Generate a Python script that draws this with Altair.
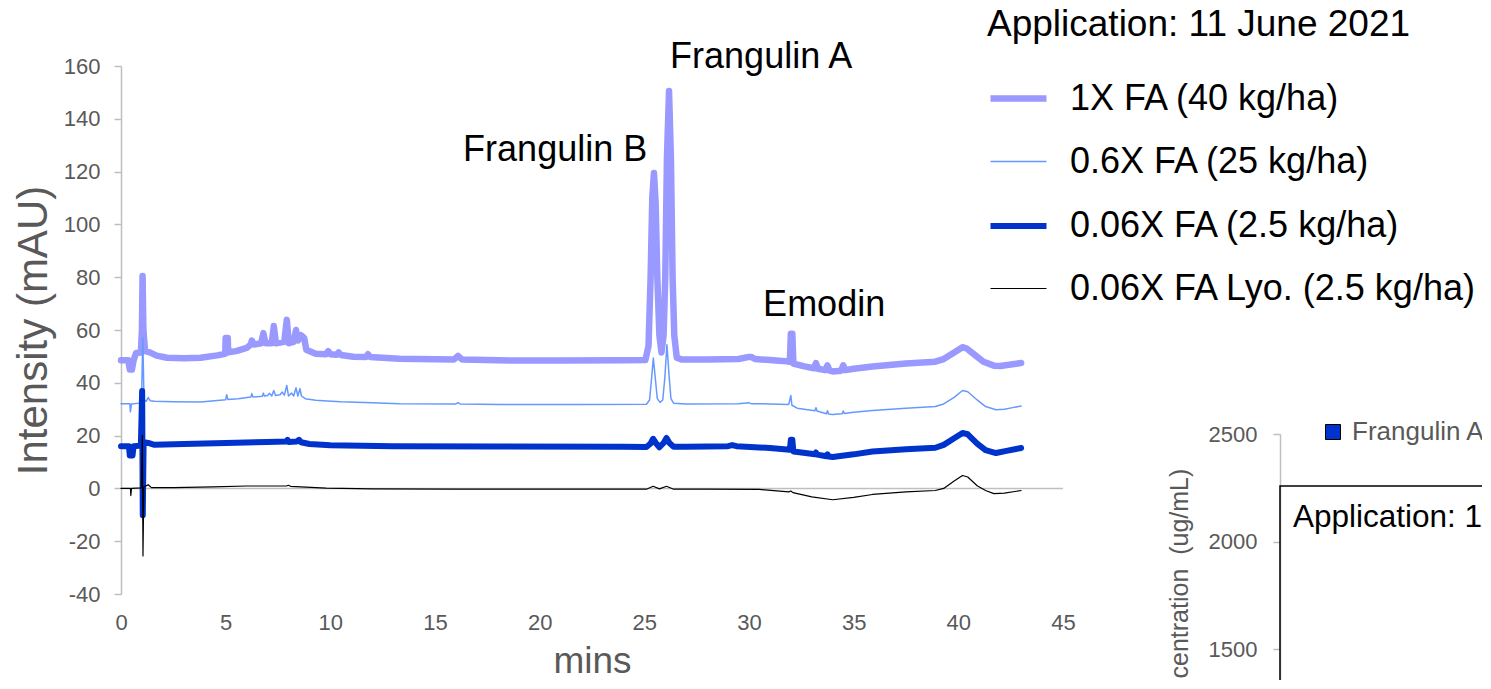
import altair as alt
import pandas as pd

FONT = "Liberation Sans"
GREY = "#595959"
AXIS_GREY = "#BFBFBF"

# ---------------- data ----------------
series_names = ["1X FA (40 kg/ha)", "0.6X FA (25 kg/ha)",
                "0.06X FA (2.5 kg/ha)", "0.06X FA Lyo. (2.5 kg/ha)"]
series_colors = ["#9999FF", "#6699FF", "#0033CC", "#000000"]
series_widths = [6.5, 1.5, 6.0, 1.2]

# (mins, mAU)
trace_1x = [
    (0.0, 48.5), (0.35, 48.5), (0.42, 45.0), (0.52, 45.0), (0.6, 48.5), (0.72, 51.3),
    (0.95, 51.5), (1.0, 60.0), (1.03, 80.5), (1.07, 60.0), (1.15, 52.0), (1.35, 51.6),
    (1.7, 50.3), (2.2, 49.5), (3.0, 49.3), (3.8, 49.5), (4.6, 50.4), (4.98, 51.0),
    (5.0, 57.0), (5.1, 57.0), (5.12, 51.6), (5.5, 52.0), (6.0, 53.2), (6.2, 54.5),
    (6.25, 56.0), (6.35, 54.5), (6.7, 55.0), (6.8, 58.8), (6.9, 55.0), (7.2, 55.0),
    (7.3, 61.5), (7.4, 55.0), (7.8, 55.5), (7.92, 63.9), (8.02, 55.0), (8.25, 55.5),
    (8.36, 60.0), (8.45, 56.0), (8.6, 58.0), (8.75, 57.0), (8.85, 52.5), (9.3, 51.0),
    (9.8, 50.8), (9.9, 52.0), (10.0, 50.8), (10.3, 50.6), (10.4, 51.5), (10.5, 50.5),
    (11.1, 49.9), (11.7, 49.8), (11.8, 50.8), (11.9, 49.8), (13.3, 49.1), (15.9, 48.8),
    (16.1, 50.2), (16.3, 48.8), (18.0, 48.5), (21.0, 48.4), (24.0, 48.5), (25.05, 48.6),
    (25.2, 54.0), (25.3, 80.0), (25.38, 110.0), (25.46, 119.5), (25.54, 108.0),
    (25.62, 80.0), (25.72, 58.0), (25.82, 51.5), (25.92, 58.0), (26.0, 80.0),
    (26.08, 125.0), (26.18, 150.5), (26.27, 125.0), (26.35, 80.0), (26.43, 58.0),
    (26.55, 49.5), (26.8, 48.8), (28.0, 48.8), (29.5, 49.0), (30.0, 49.8), (30.1, 49.8),
    (30.3, 49.0), (31.0, 48.6), (31.6, 48.3), (31.95, 48.0), (32.0, 58.6), (32.07, 58.6),
    (32.12, 47.3), (32.6, 46.3), (33.1, 45.5), (33.2, 47.5), (33.3, 45.3), (33.65, 44.8),
    (33.75, 46.6), (33.85, 44.6), (34.0, 44.3), (34.4, 44.6), (34.5, 46.6), (34.6, 44.8),
    (35.0, 45.3), (35.9, 46.2), (37.5, 47.3), (38.9, 48.0), (39.3, 49.0), (39.8, 51.5),
    (40.2, 53.5), (40.4, 53.0), (40.8, 50.5), (41.2, 48.0), (41.7, 46.5), (42.0, 46.4),
    (42.5, 46.9), (43.0, 47.5),
]
trace_06x = [
    (0.0, 32.1), (0.42, 32.1), (0.45, 29.0), (0.5, 32.0), (0.9, 32.3), (0.98, 33.0),
    (1.04, 57.0), (1.1, 33.5), (1.2, 33.0), (1.3, 34.4), (1.4, 33.2), (1.6, 33.0),
    (2.5, 32.8), (3.8, 32.7), (4.6, 33.3), (5.0, 33.6), (5.05, 35.5), (5.1, 33.7),
    (5.6, 34.0), (6.2, 34.6), (6.25, 35.9), (6.3, 34.6), (6.75, 34.9), (6.8, 36.1),
    (6.85, 35.0), (7.0, 35.2), (7.1, 36.0), (7.2, 35.0), (7.3, 37.1), (7.38, 35.2),
    (7.6, 35.5), (7.7, 36.5), (7.8, 35.3), (7.92, 39.0), (8.0, 35.0), (8.15, 36.1),
    (8.25, 35.0), (8.36, 38.1), (8.45, 35.0), (8.55, 37.8), (8.62, 35.0), (8.8, 34.0),
    (9.3, 33.4), (9.85, 33.1), (10.5, 32.8), (12.0, 32.4), (13.3, 32.1), (16.0, 32.0),
    (16.1, 32.5), (16.2, 32.0), (18.1, 31.8), (22.0, 31.8), (25.1, 31.9), (25.25, 33.5),
    (25.35, 42.0), (25.43, 49.4), (25.52, 42.0), (25.62, 34.0), (25.75, 32.6),
    (25.88, 33.5), (25.98, 42.0), (26.08, 54.4), (26.17, 44.0), (26.27, 34.0),
    (26.4, 32.3), (27.0, 32.0), (29.5, 32.1), (30.0, 32.4), (30.1, 32.1), (31.0, 32.0),
    (31.9, 31.8), (32.0, 35.2), (32.05, 31.5), (32.3, 30.4), (32.8, 29.8), (33.15, 29.4),
    (33.2, 30.6), (33.25, 29.3), (33.7, 28.3), (33.75, 29.4), (33.8, 28.2), (34.0, 28.0),
    (34.45, 28.3), (34.5, 29.3), (34.55, 28.4), (35.0, 28.8), (35.9, 29.5), (37.5, 30.4),
    (38.9, 31.0), (39.3, 32.0), (39.8, 34.5), (40.2, 37.1), (40.45, 36.6), (40.9, 33.5),
    (41.3, 31.0), (41.8, 29.8), (42.2, 30.0), (42.6, 30.6), (43.0, 31.2),
]
trace_006x = [
    (0.0, 16.0), (0.38, 16.0), (0.42, 12.5), (0.55, 12.5), (0.6, 16.0), (0.95, 16.2),
    (1.01, 36.9), (1.04, -10.2), (1.08, 17.5), (1.3, 17.2), (1.6, 16.5), (3.0, 16.8),
    (5.0, 17.2), (7.0, 17.6), (7.9, 17.8), (7.95, 18.4), (8.0, 17.6), (8.4, 17.8),
    (8.5, 18.4), (8.6, 17.5), (9.0, 16.8), (10.0, 16.3), (13.0, 16.0), (18.0, 15.9),
    (24.0, 15.8), (25.1, 15.7), (25.3, 17.0), (25.42, 18.8), (25.55, 17.2), (25.72, 15.6),
    (25.92, 17.2), (26.06, 19.1), (26.2, 17.2), (26.4, 15.8), (27.0, 15.8), (29.0, 16.0),
    (29.2, 16.4), (29.4, 16.0), (31.0, 15.3), (31.95, 14.6), (32.0, 18.4), (32.07, 18.4),
    (32.12, 14.0), (32.6, 13.5), (33.15, 12.9), (33.2, 13.6), (33.25, 12.8), (33.7, 12.2),
    (33.75, 12.9), (33.8, 12.1), (34.0, 11.9), (35.0, 12.9), (35.9, 14.0), (37.5, 14.8),
    (38.9, 15.4), (39.3, 16.5), (39.8, 19.0), (40.2, 21.0), (40.45, 20.5), (40.9, 17.0),
    (41.3, 14.5), (41.8, 13.4), (42.3, 14.2), (43.0, 15.3),
]
trace_006x_lyo = [
    (0.0, 0.0), (0.45, 0.0), (0.47, -2.7), (0.5, 0.0), (0.97, 0.2), (1.02, 20.1),
    (1.05, -25.6), (1.09, 0.5), (1.3, 1.4), (1.45, 0.3), (2.5, 0.3), (4.4, 0.6),
    (6.0, 0.9), (7.9, 0.9), (8.0, 1.2), (8.1, 0.8), (9.8, 0.1), (12.0, -0.2),
    (16.0, -0.3), (20.0, -0.3), (24.0, -0.3), (25.1, -0.3), (25.42, 0.8), (25.72, -0.2),
    (26.06, 0.8), (26.4, -0.3), (28.0, -0.3), (30.5, -0.4), (31.9, -1.3), (32.0, -1.0),
    (32.1, -1.6), (33.0, -3.2), (34.0, -4.3), (35.0, -3.4), (35.9, -2.3), (37.5, -1.3),
    (38.9, -0.8), (39.3, 0.0), (39.8, 2.8), (40.2, 4.9), (40.45, 4.3), (40.9, 1.0),
    (41.3, -0.8), (41.7, -2.0), (42.2, -1.8), (43.0, -0.8),
]
traces = [trace_1x, trace_06x, trace_006x, trace_006x_lyo]

x_ticks = [0, 5, 10, 15, 20, 25, 30, 35, 40, 45]
y_ticks = [-40, -20, 0, 20, 40, 60, 80, 100, 120, 140, 160]

annot_labels = ["Frangulin B", "Frangulin A", "Emodin"]
annot_mins = [20.74, 30.58, 33.59]
annot_mau = [124.2, 159.1, 65.2]

# cropped neighbouring chart (bottom right)
frag_ticks = [1500, 2000, 2500]
frag_series = ["Frangulin A"]
frag_colors = ["#0033CC"]
frag_box_title = "Application: 11 June 2021"
frag_axis_title = "Concentration\u00a0 (ug/mL)"

# ---------------- chart ----------------
PLAIN_LABEL = "'' + datum.value"

x_scale = alt.Scale(domain=[0, 45], nice=False, zero=False)
y_scale = alt.Scale(domain=[-40, 160], nice=False, zero=False)
color_scale = alt.Scale(domain=series_names, range=series_colors)
width_scale = alt.Scale(type="ordinal", domain=series_names, range=series_widths)

x_axis = alt.Axis(values=x_ticks, title="mins", domain=False, ticks=False, tickSize=0,
                  grid=False, labelFontSize=22, labelColor=GREY, labelFont=FONT,
                  labelPadding=18, labelFlush=False, labelOverlap=False,
                  labelExpr=PLAIN_LABEL,
                  titleFontSize=37, titleColor=GREY, titleFont=FONT,
                  titleFontWeight="normal", titleBaseline="alphabetic", titleY=78)
y_axis = alt.Axis(values=y_ticks, title="Intensity (mAU)", grid=False,
                  domainColor=AXIS_GREY, domainWidth=1.5, tickColor=AXIS_GREY,
                  tickWidth=1.5, tickSize=7, labelPadding=14, labelFontSize=22,
                  labelColor=GREY, labelFont=FONT, labelFlush=False, labelOverlap=False,
                  labelExpr=PLAIN_LABEL,
                  titleFontSize=42, titleColor=GREY, titleFont=FONT,
                  titleFontWeight="normal", titleAngle=270, titleAlign="center",
                  titleBaseline="alphabetic", titleX=-75, titleY=264)

main_legend = alt.Legend(
    title="Application: 11 June 2021", orient="none", legendX=866, legendY=-59,
    padding=0, titleFontSize=37, titleFontWeight="normal", titleColor="black",
    titleFont=FONT, titleLimit=800, labelFontSize=36, labelColor="black",
    labelFont=FONT, labelLimit=800, symbolType="stroke", symbolSize=3136,
    labelOffset=20, titlePadding=23, rowPadding=15.5,
)

zero_df = pd.DataFrame({"zero": [0]})
zero_rule = alt.Chart(zero_df).mark_rule(color=AXIS_GREY, strokeWidth=1.5).encode(
    y=alt.Y("zero:Q", scale=y_scale, axis=y_axis)
)

line_layers = []
for name, trace in zip(series_names, traces):
    df = pd.DataFrame({
        "series": name,
        "idx": list(range(len(trace))),
        "mins": [p[0] for p in trace],
        "mAU": [p[1] for p in trace],
    })
    line_layers.append(
        alt.Chart(df).mark_line(strokeCap="round", strokeJoin="round").encode(
            x=alt.X("mins:Q", scale=x_scale, axis=x_axis),
            y=alt.Y("mAU:Q", scale=y_scale, axis=y_axis),
            color=alt.Color("series:N", scale=color_scale, legend=main_legend),
            strokeWidth=alt.StrokeWidth("series:N", scale=width_scale, legend=main_legend),
            order=alt.Order("idx:Q"),
        )
    )

annot_df = pd.DataFrame({"label": annot_labels, "mins": annot_mins, "mAU": annot_mau})
annot = alt.Chart(annot_df).mark_text(font=FONT, fontSize=36, color="black",
                                      align="center", baseline="alphabetic").encode(
    x=alt.X("mins:Q", scale=x_scale, axis=x_axis),
    y=alt.Y("mAU:Q", scale=y_scale, axis=y_axis),
    text="label:N",
)

main = alt.layer(zero_rule, *line_layers, annot)

# --- cropped second chart ---
frag_df = pd.DataFrame({"conc": frag_ticks, "compound": frag_series[0]})
frag_axis = alt.Axis(orient="left", offset=-1159, values=frag_ticks, grid=False,
                     domainColor=AXIS_GREY, domainWidth=1.5, tickColor=AXIS_GREY,
                     tickWidth=1.5, tickSize=7, labelPadding=16, labelFontSize=22,
                     labelColor=GREY, labelFont=FONT, labelFlush=False,
                     labelOverlap=False, labelExpr=PLAIN_LABEL,
                     title=frag_axis_title, titleFontSize=25,
                     titleColor=GREY, titleFont=FONT, titleFontWeight="normal",
                     titleAngle=270, titleAlign="center", titleBaseline="alphabetic",
                     titleX=-93, titleY=530)
frag_legend = alt.Legend(
    title=None, orient="none", legendX=1199, legendY=353, padding=0,
    symbolType="square", symbolSize=225, symbolOpacity=1,
    symbolStrokeColor="black", symbolStrokeWidth=1,
    labelFontSize=26, labelColor=GREY, labelFont=FONT, labelOffset=6, labelLimit=500,
)
frag_marks = alt.Chart(frag_df).mark_square(opacity=0, size=225).encode(
    y=alt.Y("conc:Q", scale=alt.Scale(domain=[0, 2500], range=[905.5, 368],
                                      nice=False, zero=False), axis=frag_axis),
    fill=alt.Fill("compound:N", scale=alt.Scale(domain=frag_series, range=frag_colors),
                  legend=frag_legend),
)
one_df = pd.DataFrame({"k": [0]})
frag_box = alt.Chart(one_df).mark_rect(fillOpacity=0, stroke="black", strokeWidth=1.5).encode(
    x=alt.value(1159), x2=alt.value(1600), y=alt.value(420), y2=alt.value(900)
)
frag_text = alt.Chart(one_df).mark_text(font=FONT, fontSize=31.5, color="black",
                                        align="left", baseline="alphabetic").encode(
    x=alt.value(1172), y=alt.value(461), text=alt.value(frag_box_title)
)
frag = alt.layer(frag_box, frag_text, frag_marks)

chart = (
    alt.layer(main, frag)
    .resolve_scale(y="independent")
    .properties(
        width=942, height=528,
        padding={"left": 113, "top": 58, "right": 419, "bottom": 86},
        autosize=alt.AutoSizeParams(type="none"),
        background="white",
    )
    .configure(font=FONT)
    .configure_view(strokeWidth=0)
)

chart.save("out.html", embed_options={"renderer": "svg", "actions": False})
